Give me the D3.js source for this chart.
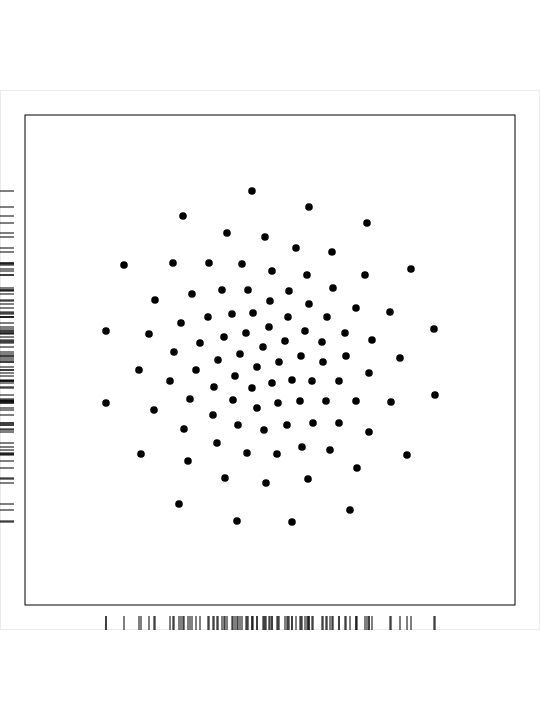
<!DOCTYPE html>
<html>
<head>
<meta charset="utf-8">
<script src="https://cdn.jsdelivr.net/npm/d3@7"></script>
<style>
  html, body { margin: 0; padding: 0; background: #ffffff; }
  body { width: 540px; height: 720px; position: relative; }
  svg { position: absolute; left: 0; top: 90px; }
</style>
</head>
<body>
<script>
// Point positions (data units)
const xValues = [-18, 39, -87, 97, -43, -5, 26, 62, -146, -97,
  -61, -28, 2, 37, 95, 141, -78, -48, -22, 19,
  63, -115, 0, 39, 86, 120, -62, -38, -17, 18,
  57, -89, -1, 35, 75, -164, -121, -46, -24, 164,
  -70, 15, 52, 102, -96, -30, -7, -52, 31, 9,
  76, 130, -131, -74, -13, 53, -35, 22, 2, 42,
  69, 99, -100, -56, -18, -80, -37, 8, 30, 56,
  86, -164, 121, -13, -116, -57, 165, -32, 17, 43,
  69, -86, -6, 99, -53, 32, 60, -129, -23, 7,
  137, -82, 87, -45, -4, 38, -91, 80, -33, 22];
const yValues = [169, 153, 144, 137, 127, 123, 112, 108, 95, 97,
  97, 96, 89, 85, 85, 91, 66, 70, 70, 69,
  72, 60, 59, 56, 52, 48, 43, 46, 47, 43,
  43, 37, 33, 29, 27, 29, 26, 23, 27, 31,
  17, 19, 18, 20, 8, 6, 13, 0, 4, -2,
  4, 2, -10, -10, -7, -2, -16, -20, -23, -21,
  -21, -13, -21, -27, -28, -39, -40, -43, -41, -41,
  -41, -43, -42, -48, -50, -55, -35, -65, -65, -63,
  -63, -69, -70, -72, -83, -87, -90, -94, -93, -94,
  -95, -101, -108, -118, -123, -119, -144, -150, -161, -162];
const xDomain = [-245, 245];
const yDomain = [-245, 245];

const W = 540, H = 540;
const panel = { left: 25, right: 515, top: 25, bottom: 515 };

const data = xValues.map((x, i) => ({ x, y: yValues[i] }));

const svg = d3.select("body").append("svg")
  .attr("width", W).attr("height", H);

// outer light frame
svg.append("rect")
  .attr("x", 0.5).attr("y", 0.5)
  .attr("width", W - 1).attr("height", H - 1)
  .attr("fill", "#ffffff")
  .attr("stroke", "#ebebeb")
  .attr("stroke-width", 1);

const x = d3.scaleLinear().domain(xDomain).range([panel.left, panel.right]);
const y = d3.scaleLinear().domain(yDomain).range([panel.bottom, panel.top]);

// panel border
svg.append("rect")
  .attr("x", panel.left).attr("y", panel.top)
  .attr("width", panel.right - panel.left)
  .attr("height", panel.bottom - panel.top)
  .attr("fill", "none")
  .attr("stroke", "#000")
  .attr("stroke-width", 1);

// points
svg.append("g").selectAll("circle")
  .data(data).join("circle")
  .attr("cx", d => x(d.x))
  .attr("cy", d => y(d.y))
  .attr("r", 3.8)
  .attr("fill", "#000");

// rugs
const rugLen = 14;
svg.append("g").selectAll("line")
  .data(data).join("line")
  .attr("x1", 0).attr("x2", rugLen)
  .attr("y1", d => y(d.y)).attr("y2", d => y(d.y))
  .attr("stroke", "#000").attr("stroke-width", 1);

svg.append("g").selectAll("line")
  .data(data).join("line")
  .attr("y1", H - rugLen).attr("y2", H)
  .attr("x1", d => x(d.x)).attr("x2", d => x(d.x))
  .attr("stroke", "#000").attr("stroke-width", 1);
</script>
</body>
</html>
